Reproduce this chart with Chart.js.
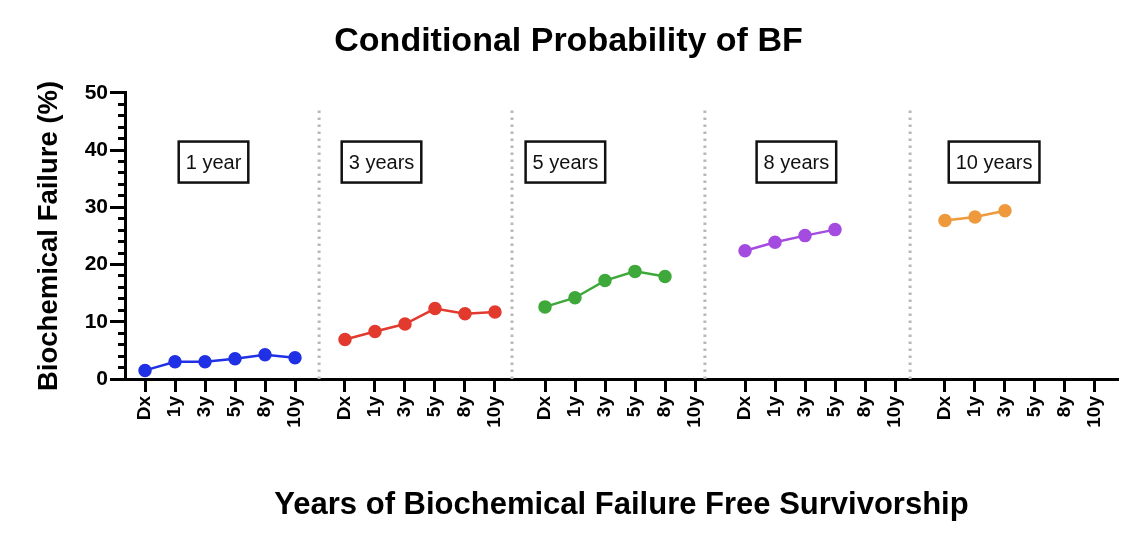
<!DOCTYPE html>
<html>
<head>
<meta charset="utf-8">
<script src="https://cdn.jsdelivr.net/npm/chart.js@4.4.1/dist/chart.umd.min.js"></script>
<style>
html,body{margin:0;padding:0;background:#ffffff;}
#wrap{width:1148px;height:534px;}
</style>
</head>
<body>
<div id="wrap"><canvas id="c" width="1148" height="534"></canvas></div>
<script>
// ---- data ----
const tickLabels = ['Dx', '1y', '3y', '5y', '8y', '10y'];
const groupNames = ['1 year', '3 years', '5 years', '8 years', '10 years'];
const groupStarts = [0.667, 7.333, 14.0, 20.667, 27.333];
const separators = [6.47, 12.9, 19.33, 26.17];
const boxCenters = [2.95, 8.55, 14.68, 22.38, 28.97];
const boxLevel = 37.9;
const bf1 = [1.5, 3.0, 3.0, 3.55, 4.25, 3.7];
const bf3 = [6.9, 8.3, 9.6, 12.3, 11.4, 11.7];
const bf5 = [12.6, 14.2, 17.2, 18.8, 17.9];
const bf8 = [22.4, 23.9, 25.05, 26.1];
const bf10 = [27.7, 28.3, 29.4];
const seriesColors = ['#2030e4', '#e23a2e', '#3ea83a', '#a44be0', '#ee9a3c'];
const yMajor = 10;

const FONT = '"Liberation Sans", Arial, sans-serif';
const allSeries = [bf1, bf3, bf5, bf8, bf10];
const tickPositions = [];
groupStarts.forEach(s => tickLabels.forEach((_, i) => tickPositions.push(+(s + i).toFixed(3))));

const datasets = [];
separators.forEach(s => {
  datasets.push({
    data: [{x: s, y: 0}, {x: s, y: 47.6}],
    borderColor: '#b8b8b8', borderWidth: 3, borderDash: [2.5, 4.5],
    borderCapStyle: 'butt', pointRadius: 0, fill: false
  });
});
allSeries.forEach((arr, g) => {
  datasets.push({
    data: arr.map((v, i) => ({x: groupStarts[g] + i, y: v})),
    borderColor: seriesColors[g], backgroundColor: seriesColors[g],
    borderWidth: 2.5, pointRadius: 5.5, pointHoverRadius: 5.5, fill: false, tension: 0
  });
});

const boxPlugin = {
  id: 'boxes',
  afterDatasetsDraw(chart) {
    const {ctx, scales: {x, y}} = chart;
    ctx.save();
    ctx.font = '20px ' + FONT;
    ctx.textAlign = 'center';
    ctx.textBaseline = 'middle';
    groupNames.forEach((name, i) => {
      const cx = x.getPixelForValue(boxCenters[i]);
      const cy = y.getPixelForValue(boxLevel);
      const w = ctx.measureText(name).width + 14;
      const h = 41;
      ctx.lineWidth = 2.5;
      ctx.strokeStyle = '#111';
      ctx.strokeRect(cx - w / 2, cy - h / 2, w, h);
      ctx.fillStyle = '#111';
      ctx.fillText(name, cx, cy + 1);
    });
    ctx.restore();
  }
};

new Chart(document.getElementById('c'), {
  type: 'line',
  data: {datasets},
  plugins: [boxPlugin],
  options: {
    responsive: false,
    animation: false,
    events: [],
    layout: {padding: {left: 19, right: 30, top: 0, bottom: 0}},
    plugins: {
      legend: {display: false},
      tooltip: {enabled: false},
      title: {
        display: true,
        text: 'Conditional Probability of BF',
        color: '#000',
        font: {family: FONT, size: 34, weight: 'bold'},
        padding: {top: 21, bottom: 31}
      }
    },
    scales: {
      x: {
        type: 'linear', min: 0, max: 33.1,
        afterBuildTicks(scale) { scale.ticks = tickPositions.map(v => ({value: v})); },
        afterFit(scale) { scale.height = 155; },
        border: {color: '#000', width: 3},
        grid: {drawOnChartArea: false, drawTicks: true, tickLength: 13, tickWidth: 3, tickColor: '#000'},
        ticks: {
          autoSkip: false, maxRotation: 90, minRotation: 90, padding: 4,
          color: '#000',
          font: {family: FONT, size: 19, weight: 'bold'},
          callback: (v, i) => tickLabels[i % tickLabels.length]
        },
        title: {
          display: true, text: 'Years of Biochemical Failure Free Survivorship',
          color: '#000', padding: {top: 30, bottom: 10},
          font: {family: FONT, size: 31, weight: 'bold'}
        }
      },
      y: {
        min: 0, max: 50,
        afterFit(scale) { scale.width = 106; },
        border: {color: '#000', width: 3},
        grid: {
          drawOnChartArea: false, tickLength: 15, tickColor: '#000',
          tickWidth: 3,
          tickBorderDash: (ctx) => (ctx.tick && ctx.tick.value % yMajor === 0) ? [] : [0, 8, 7, 0]
        },
        ticks: {
          stepSize: 2, autoSkip: false, padding: 2, color: '#000',
          font: {family: FONT, size: 21, weight: 'bold'},
          callback: (v) => (v % yMajor === 0 ? String(v) : '')
        },
        title: {
          display: true, text: 'Biochemical Failure (%)', color: '#000',
          padding: {top: 14, bottom: 6},
          font: {family: FONT, size: 27.5, weight: 'bold'}
        }
      }
    }
  }
});
</script>
</body>
</html>
